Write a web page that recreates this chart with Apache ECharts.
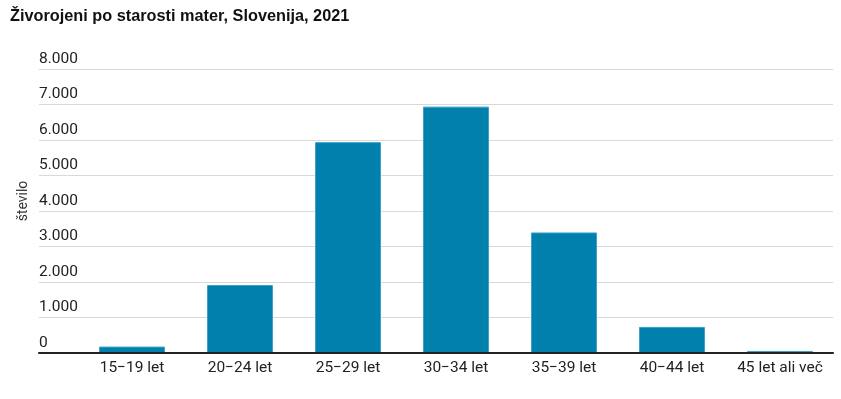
<!DOCTYPE html>
<html>
<head>
<meta charset="utf-8">
<script src="https://cdn.jsdelivr.net/npm/echarts@6/dist/echarts.min.js"></script>
<style>html,body{margin:0;padding:0;background:#fff}#c{width:841px;height:399px}</style>
</head>
<body>
<div id="c"></div>
<script>
const categories = ['15−19 let', '20−24 let', '25−29 let', '30−34 let', '35−39 let', '40−44 let', '45 let ali več'];
const values = [180, 1915, 5940, 6940, 3395, 735, 55];
const yTicks = { min: 0, max: 8000, interval: 1000 };
const titleText = 'Živorojeni po starosti mater, Slovenija, 2021';
const yName = 'število';

const chart = echarts.init(document.getElementById('c'), null, { renderer: 'canvas' });
const fmt = v => v === 0 ? '0' : (v / 1000).toFixed(0) + '.000';
chart.setOption({
  animation: false,
  title: {
    text: titleText, left: 10, top: 9, padding: 0,
    textStyle: { fontFamily: 'Liberation Sans, Arial, sans-serif', fontSize: 16.3, fontWeight: 'bold', color: '#111' }
  },
  grid: [
    { left: 39, right: 8, top: 69, bottom: 46 },
    { left: 78, right: 7, top: 69, bottom: 46 }
  ],
  xAxis: [
    { type: 'category', gridIndex: 0, data: [''], axisTick: { show: false }, axisLabel: { show: false },
      axisLine: { show: true, lineStyle: { color: '#222', width: 2 } }, z: 5 },
    { type: 'category', gridIndex: 1, data: categories, axisTick: { show: false },
      axisLine: { show: false },
      axisLabel: { interval: 0, hideOverlap: false, margin: 7, fontFamily: 'Roboto', fontSize: 15.5, color: '#222' } }
  ],
  yAxis: [
    { type: 'value', gridIndex: 0, min: yTicks.min, max: yTicks.max, interval: yTicks.interval,
      name: yName, nameLocation: 'middle', nameGap: 9, nameMoveOverlap: false,
      nameTextStyle: { fontFamily: 'Roboto', fontSize: 14, color: '#333', padding: [0, 0, 0, 20] },
      axisLine: { show: false }, axisTick: { show: false },
      splitLine: { lineStyle: { color: '#d9d9d9', width: 1 } },
      axisLabel: { inside: true, margin: 0, verticalAlign: 'bottom', padding: [0, 0, 2, 0],
        fontFamily: 'Roboto', fontSize: 15.5, color: '#222', formatter: fmt } },
    { type: 'value', gridIndex: 1, min: yTicks.min, max: yTicks.max, interval: yTicks.interval, show: false }
  ],
  series: [{
    type: 'bar', xAxisIndex: 1, yAxisIndex: 1, data: values, barWidth: '61%',
    itemStyle: { color: '#0080ad', borderColor: '#3a9fc7', borderWidth: 1 }
  }]
});
</script>
</body>
</html>
